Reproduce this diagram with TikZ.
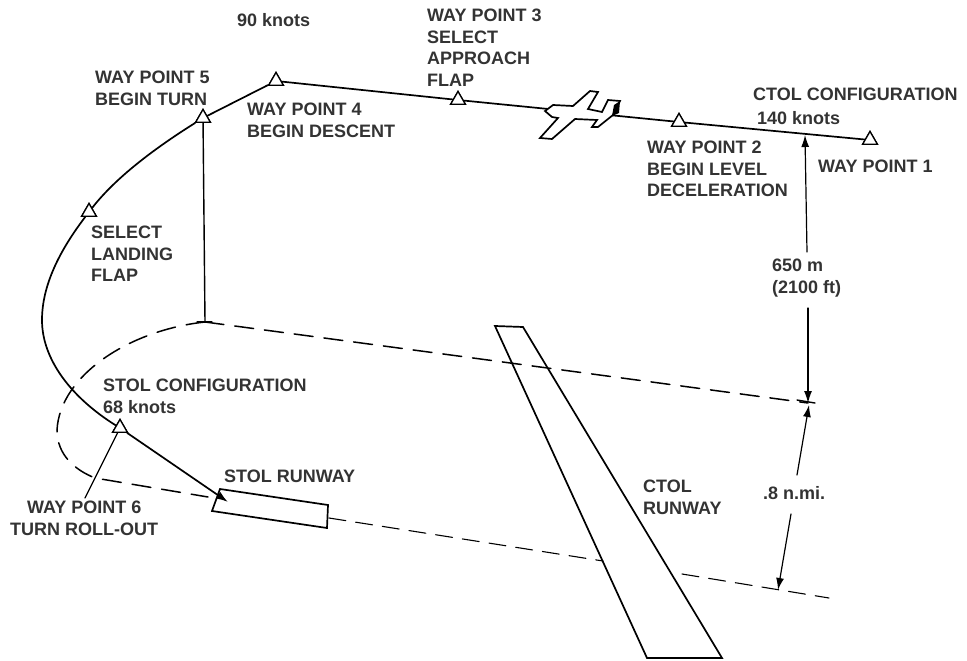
\documentclass[tikz,border=0pt]{standalone}
\usepackage{fontspec}
\setmainfont{Liberation Sans}
\usetikzlibrary{shapes.geometric, arrows.meta, positioning, calc}

\begin{document}
\begin{tikzpicture}[
  x=1pt, y=-1pt, line cap=round,
  waypt/.style={draw, line width=1.3pt, regular polygon, regular polygon sides=3, inner sep=0pt, minimum size=17pt, fill=white},
  lbl/.style={font=\fontsize{18}{21.5}\selectfont\bfseries, align=left, inner sep=0pt, anchor=north west, text=black!80},
  flightpath/.style={line width=1.7pt},
  gnd/.style={line width=1.5pt, dash pattern=on 19pt off 11pt},
  thin gnd/.style={line width=1.1pt, dash pattern=on 17pt off 10pt},
  rwy/.style={draw, line width=1.7pt, fill=white},
  arrow/.style={-{Latex[length=12pt,width=8pt]}, line width=1.2pt}
]
\useasboundingbox (0,0) rectangle (967,661);

% ground track
\coordinate (gndtop) at (205,322);
\coordinate (gndmid) at (808,403);
\coordinate (stolend) at (208,497);
\coordinate (stoltip) at (228,502);
\draw[gnd] (gndtop) -- (gndmid);
\draw[gnd] (gndtop) .. controls (130,330) and (60,375) .. (57,430)
  .. controls (57,455) and (75,470) .. (95,478) -- (stolend);

% runways
\coordinate (rwyend) at (329,518);
\coordinate (ctolleft) at (603,561);
\coordinate (ctolright) at (682,574);
\coordinate (gndend) at (829,598);
\draw[thin gnd] (rwyend) -- (ctolleft);
\draw[thin gnd] (ctolright) -- (gndend);
\draw[rwy, fill=none] (495,326) -- (523,327) -- (722,658) -- (647,658) -- cycle;
\draw[rwy] (220,489) -- (328,505) -- (327,528) -- (212,511) -- cycle;

% flight path
\node[waypt] (wp1) at (870,140) {};
\node[waypt] (wp2) at (679,122) {};
\node[waypt] (wp3) at (458,100) {};
\node[waypt] (wp4) at (276,81) {};
\node[waypt] (wp5) at (203,118) {};
\node[waypt] (flap) at (89,212) {};
\node[waypt] (wp6) at (120,428) {};
\draw[flightpath] (wp1) -- (wp2) -- (wp3) -- (wp4);
\draw[flightpath] (wp4) -- (wp5)
  .. controls (168,140) and (120,172) .. (flap)
  .. controls (60,250) and (42,285) .. (42,320) .. controls (42,360) and (72,398) .. (wp6);
\draw[flightpath, -{Latex[length=12pt,width=8pt]}] (wp6) -- (stoltip);
\foreach \wp in {wp1,wp2,wp3,wp4,wp5,flap,wp6}
  \node[waypt] at (\wp) {};

% plane
\filldraw[line width=1.7pt, fill=white] (545,111) -- (553,105) -- (573,106) -- (590,91) -- (598,92) -- (588,109)
  -- (602,112) -- (608,100) -- (620,101) -- (613,115) -- (598,127) -- (592,127) -- (597,120)
  -- (575,119) -- (552,139) -- (540,138) -- (558,118) -- (552,117) -- cycle;
\fill (614,105) -- (620,101) -- (619,113) -- (612,116) -- cycle;

% heights
\draw[line width=1.4pt] (wp5) -- (gndtop);
\draw[line width=1.2pt] (85,498) -- (wp6);
\draw[line width=1.3pt] (197,322) -- (212,322);
\coordinate (dimtop) at (805,135);
\node[lbl] (hgt) at (772,259) {650 m\\(2100 ft)};
\node[lbl] (dist) at (763,486) {.8 n.mi.};
\coordinate (dimlow) at (778,590);
\draw[arrow] (807,252) -- (dimtop);
\draw[arrow] (808,308) -- (gndmid);
\draw[arrow] (797,475) -- (809,405);
\draw[arrow] (791,514) -- (dimlow);
\draw[line width=1.4pt] (797,400) -- (815,403);

% labels
\node[lbl] at (237,13) {90 knots};
\node[lbl] at (427,9) {WAY POINT 3\\SELECT\\APPROACH\\FLAP};
\node[lbl] at (753,88) {CTOL CONFIGURATION};
\node[lbl] at (757,111) {140 knots};
\node[lbl] at (818,160) {WAY POINT 1};
\node[lbl] at (647,141) {WAY POINT 2\\BEGIN LEVEL\\DECELERATION};
\node[lbl] at (95,71) {WAY POINT 5\\BEGIN TURN};
\node[lbl] at (247,103) {WAY POINT 4\\BEGIN DESCENT};
\node[lbl] at (91,226) {SELECT\\LANDING\\FLAP};
\node[lbl] at (103,379) {STOL CONFIGURATION};
\node[lbl] at (103,400) {68 knots};
\node[lbl] at (224,470) {STOL RUNWAY};
\node[lbl] at (643,480) {CTOL\\RUNWAY};
\node[lbl, align=center] at (10,501) {WAY POINT 6\\TURN ROLL-OUT};
\end{tikzpicture}
\end{document}
